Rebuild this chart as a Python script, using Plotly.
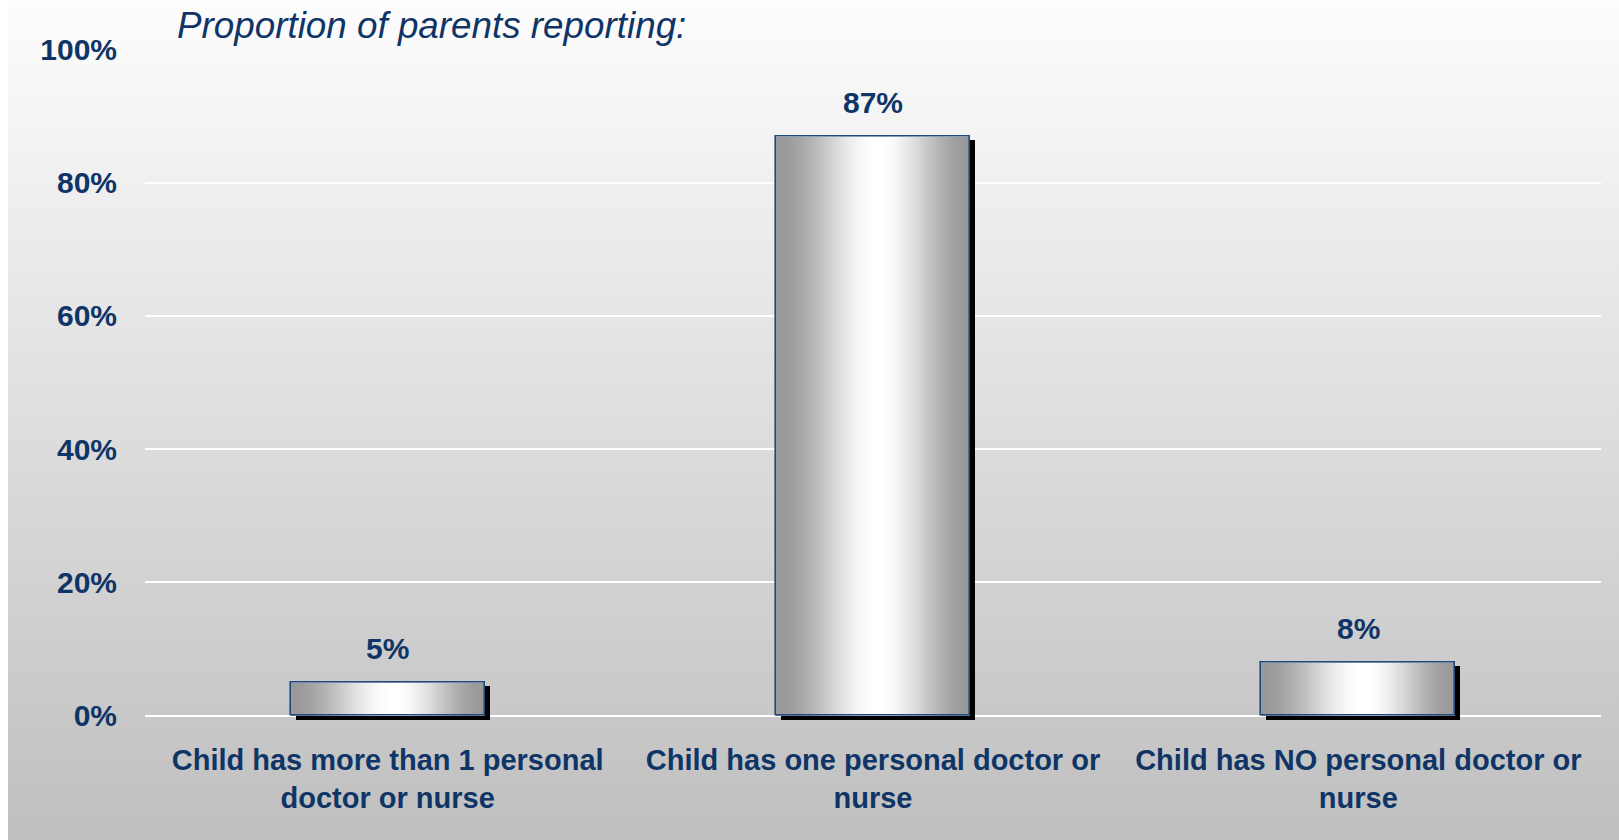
import plotly.graph_objects as go

# ---- data ----
categories = [
    "Child has more than 1 personal<br>doctor or nurse",
    "Child has one personal doctor or<br>nurse",
    "Child has NO personal doctor or<br>nurse",
]
values = [5, 87, 8]
value_labels = ["5%", "87%", "8%"]
y_ticks = [0, 20, 40, 60, 80, 100]
y_tick_labels = ["0%", "20%", "40%", "60%", "80%", "100%"]
title_text = "Proportion of parents reporting:"

NAVY = "#0f3567"
FONT = "Liberation Sans, Arial, sans-serif"
W, H = 1619, 840
BAR_W = 0.4

fig = go.Figure()

# background gradient (paper-level, on hidden subplot xy)
fig.add_trace(go.Scatter(
    x=[8 / W, 1, 1, 8 / W, 8 / W], y=[0, 0, 1, 1, 0],
    mode="lines", line=dict(width=0), fill="toself",
    fillgradient=dict(type="vertical", start=0, stop=1,
                      colorscale=[[0, "#bfbfbf"], [1, "#fdfdfd"]]),
    hoverinfo="skip", showlegend=False, xaxis="x", yaxis="y",
))

# shadow bars
px_per_cat = (1601 - 145) / 3.0
fig.add_trace(go.Bar(
    x=categories, y=values, base=[-0.55] * len(values),
    width=BAR_W, offset=-BAR_W / 2 + 5 / px_per_cat,
    marker=dict(color="#000000", line=dict(width=0)),
    hoverinfo="skip", showlegend=False, xaxis="x2", yaxis="y2",
))

# gradient bars via layered overlay bars
N = 40
for i in range(N):
    t = i / (N - 1)
    s = 3 * t * t - 2 * t * t * t
    c = int(round(153 + 102 * s))
    w = BAR_W * (1 - i / N)
    shift = 0.012 * (i / N)
    fig.add_trace(go.Bar(
        x=categories, y=values, width=w, offset=-w / 2 + shift,
        marker=dict(color=f"rgb({c},{c},{c})", line=dict(width=0)),
        hoverinfo="skip", showlegend=False, xaxis="x2", yaxis="y2",
    ))

# outline
fig.add_trace(go.Bar(
    x=categories, y=values, width=BAR_W, offset=-BAR_W / 2,
    marker=dict(color="rgba(0,0,0,0)", line=dict(color="#1F497D", width=1.6)),
    hoverinfo="skip", showlegend=False, xaxis="x2", yaxis="y2",
))

annotations = []
for cat, v, lab in zip(categories, values, value_labels):
    annotations.append(dict(
        x=cat, y=v, xref="x2", yref="y2", text=lab, showarrow=False,
        yanchor="middle", yshift=34,
        font=dict(family=FONT, size=30, color=NAVY, weight="bold"),
    ))
annotations.append(dict(
    x=175 / W, y=1 - 25 / H, xref="paper", yref="paper", xanchor="left",
    yanchor="middle", text=title_text, showarrow=False,
    font=dict(family=FONT, size=36.8, color=NAVY, style="italic"),
))

y_lo, y_hi = -2, 100
y_bot_px = 715.5 + (0 - y_lo) * 6.66
y_top_px = 49.5

fig.update_layout(
    width=W, height=H, autosize=False,
    margin=dict(l=0, r=0, t=0, b=0, pad=0, autoexpand=False),
    paper_bgcolor="white", plot_bgcolor="rgba(0,0,0,0)",
    barmode="overlay", bargap=0,
    showlegend=False,
    annotations=annotations,
    xaxis=dict(domain=[0, 1], range=[0, 1], visible=False, fixedrange=True,
               automargin=False),
    yaxis=dict(domain=[0, 1], range=[0, 1], visible=False, fixedrange=True,
               automargin=False),
    xaxis2=dict(
        domain=[145 / W, 1601 / W], anchor="y2", type="category",
        range=[-0.5, 2.5], showgrid=False, showline=False, zeroline=False,
        ticks="", ticklabelstandoff=11, automargin=False,
        tickfont=dict(family=FONT, size=29, color=NAVY, weight="bold"),
    ),
    yaxis2=dict(
        domain=[(H - y_bot_px) / H, (H - y_top_px) / H], anchor="x2",
        range=[y_lo, y_hi], tickmode="array", tickvals=y_ticks,
        ticktext=y_tick_labels, automargin=False,
        showgrid=True, gridcolor="white", gridwidth=2,
        zeroline=False, showline=False, ticks="", ticklabelstandoff=27,
        tickfont=dict(family=FONT, size=30, color=NAVY, weight="bold"),
    ),
)

fig.write_html(
    "out.html",
    config={"displayModeBar": False},
    post_script="document.body.style.margin='0';document.body.style.padding='0';"
                "document.documentElement.style.overflow='hidden';",
)
